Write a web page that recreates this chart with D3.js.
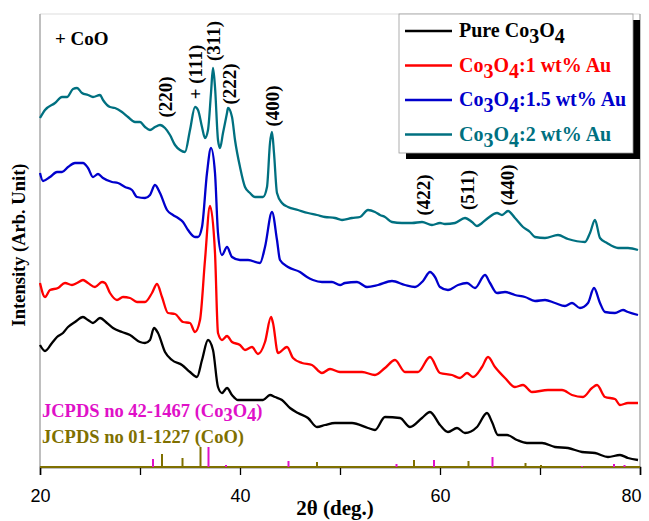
<!DOCTYPE html>
<html>
<head>
<meta charset="utf-8">
<script src="https://cdn.jsdelivr.net/npm/d3@7"></script>
<style>
  body { margin: 0; background: #fff; }
  svg text { font-family: "Liberation Serif", "Times New Roman", serif; font-weight: bold; }
</style>
</head>
<body>
<div id="chart"></div>
<script>
// XRD patterns as [2theta, intensity (arb.)]
var pureCo3O4 = [[20.0,122],[20.5,116],[21.2,124],[21.7,130],[22.3,134],[22.8,140],[23.5,145],[24.3,150],[24.8,147],[25.3,144],[26.0,149],[26.7,144],[27.3,139],[28.2,135],[29.0,132],[30.0,125],[30.5,124],[31.0,127],[31.4,139],[31.8,134],[32.5,115],[33.2,107],[34.2,102],[35.0,95],[35.7,90],[36.2,107],[36.8,127],[37.3,117],[37.8,80],[38.2,74],[38.7,79],[39.2,72],[39.8,67],[40.5,67],[41.5,67],[42.3,67],[43.0,72],[43.5,70],[44.2,67],[45.0,59],[45.8,54],[46.8,49],[47.7,40],[48.5,42],[49.5,44],[51.2,44],[52.8,39],[53.5,37],[54.5,50],[56.0,49],[57.0,40],[58.2,49],[59.0,55],[60.0,42],[60.8,35],[61.7,39],[62.5,34],[63.7,40],[64.7,54],[65.2,45],[65.8,32],[66.7,32],[67.7,27],[68.7,24],[70.2,24],[71.5,20],[72.8,19],[74.2,15],[75.5,14],[76.8,10],[78.0,12],[78.8,9],[79.8,7]];

var au1 = [[20.0,184],[20.5,170],[21.0,177],[21.8,179],[22.5,184],[23.2,182],[23.7,184],[24.3,187],[24.8,184],[25.5,180],[26.2,185],[26.5,184],[27.0,174],[27.7,167],[28.3,170],[29.0,169],[29.7,165],[30.5,165],[31.2,174],[31.7,183],[32.2,170],[32.8,154],[33.5,153],[34.3,145],[35.0,144],[35.5,135],[36.0,147],[36.5,207],[37.0,261],[37.5,214],[37.8,134],[38.2,127],[38.7,131],[39.2,125],[40.0,122],[40.5,117],[41.2,120],[41.8,113],[42.5,125],[43.1,150],[43.3,144],[43.8,114],[44.7,120],[45.3,109],[46.2,104],[47.2,102],[48.2,94],[49.0,98],[50.0,95],[50.8,95],[52.2,95],[53.5,92],[54.5,99],[55.5,107],[56.5,95],[57.8,95],[59.0,110],[60.0,94],[61.2,92],[62.0,89],[62.7,94],[63.3,90],[64.2,100],[64.8,110],[65.5,100],[66.5,89],[67.5,80],[68.3,82],[69.2,75],[70.8,77],[72.2,77],[73.2,72],[74.3,70],[75.2,79],[75.7,82],[76.5,70],[77.5,68],[78.0,62],[78.8,64],[79.8,64]];

var au15 = [[20.0,294],[20.3,286],[21.0,290],[21.7,295],[22.2,295],[22.8,300],[23.5,304],[24.3,304],[24.8,299],[25.3,290],[25.8,293],[26.3,289],[27.2,285],[27.8,284],[28.5,280],[29.2,277],[29.7,270],[30.5,269],[31.0,272],[31.5,282],[32.0,274],[32.7,257],[33.3,252],[33.8,249],[34.3,245],[34.8,237],[35.5,230],[35.8,230],[36.2,240],[36.7,294],[37.1,319],[37.5,294],[37.8,234],[38.2,212],[38.7,220],[39.2,210],[40.0,207],[40.8,207],[42.0,204],[42.5,220],[43.2,255],[43.7,227],[44.0,207],[44.8,200],[46.0,195],[46.7,190],[47.3,187],[48.2,185],[49.2,185],[50.0,182],[50.5,184],[51.7,185],[52.7,180],[53.8,182],[55.2,186],[56.5,182],[57.5,180],[58.3,186],[59.0,195],[59.5,190],[60.0,180],[60.8,177],[61.8,182],[62.7,184],[63.5,179],[64.5,192],[65.0,184],[65.7,174],[66.5,175],[67.5,172],[68.5,170],[69.5,166],[70.5,167],[71.5,164],[72.5,161],[73.2,164],[74.0,159],[74.8,164],[75.4,179],[76.0,164],[76.5,155],[77.5,154],[78.3,157],[78.8,155],[79.8,152]];

var au2 = [[20.0,349],[20.5,357],[21.5,364],[22.2,370],[22.7,370],[23.3,378],[23.7,379],[24.2,374],[24.8,372],[25.3,370],[26.0,372],[26.3,367],[27.0,360],[27.5,359],[28.2,355],[28.8,350],[29.5,345],[30.0,345],[30.5,340],[31.0,337],[31.5,340],[32.0,342],[32.5,339],[33.0,332],[33.5,322],[34.0,317],[34.5,315],[35.0,337],[35.5,360],[35.8,357],[36.2,340],[36.5,329],[36.8,337],[37.1,374],[37.3,399],[37.5,380],[37.8,327],[38.0,319],[38.3,334],[38.7,354],[38.8,359],[39.2,350],[39.5,327],[40.0,300],[40.5,280],[41.0,274],[41.5,270],[42.3,270],[42.7,280],[43.0,324],[43.2,335],[43.4,314],[43.7,274],[44.2,264],[44.8,260],[45.8,257],[46.8,254],[47.7,252],[48.5,250],[49.5,249],[50.2,247],[51.2,249],[52.0,250],[52.8,257],[53.5,255],[54.0,252],[54.5,250],[55.2,245],[56.2,244],[57.2,244],[58.2,245],[59.2,242],[60.0,244],[60.5,243],[61.5,244],[62.5,249],[63.2,245],[63.7,241],[64.2,244],[64.8,249],[65.7,254],[66.2,252],[66.8,256],[67.5,249],[68.3,240],[69.0,235],[69.5,230],[70.5,229],[71.8,232],[72.8,228],[74.5,225],[75.0,234],[75.5,247],[76.0,229],[76.7,224],[77.8,219],[78.8,219],[79.8,217]];

// reference patterns (stick heights)
var jcpdsCo3O4 = [[31.3,8],[36.85,20],[38.6,2],[44.85,6],[55.65,3],[59.4,7],[65.25,10],[74.2,1],[77.4,3],[78.45,2]];
var jcpdsCoO = [[32.2,13],[34.25,9],[36.05,20],[47.7,5],[57.4,7],[62.85,6],[68.55,4],[70.1,2]];

var seriesNames = ["Pure Co3O4", "Co3O4:1 wt% Au", "Co3O4:1.5 wt% Au", "Co3O4:2 wt% Au"];
var seriesColors = ["#000000", "#ff0000", "#0000cc", "#007080"];

// peak labels [text, 2theta, label centre height in px]
var peakLabels = [["(220)", 32.5, 97], ["+ (111)", 35.5, 72], ["(311)", 37.3, 41], ["(222)", 38.9, 84],
                  ["(400)", 43.2, 106], ["(422)", 58.3, 195], ["(511)", 62.7, 190], ["(440)", 66.7, 185]];
var xTicks = [20, 30, 40, 50, 60, 70, 80];
var xTickLabels = [20, 40, 60, 80];

var svgWidth = 649;
var svgHeight = 521;
var margin = { top: 14, right: 9, bottom: 54, left: 40 };
var plotBottom = svgHeight - margin.bottom;

var svg = d3.select("#chart")
    .append("svg")
    .attr("width", svgWidth)
    .attr("height", svgHeight);

var x = d3.scaleLinear().domain([20, 80]).range([margin.left, svgWidth - margin.right]);
var y = d3.scaleLinear().domain([0, 453]).range([plotBottom, margin.top]);

// frame
svg.append("line").attr("x1", x(20)).attr("x2", x(80)).attr("y1", margin.top).attr("y2", margin.top)
    .attr("stroke", "#dddddd").attr("stroke-width", 1);
svg.append("line").attr("x1", x(20)).attr("x2", x(20)).attr("y1", margin.top).attr("y2", plotBottom)
    .attr("stroke", "#aaaaaa").attr("stroke-width", 1.5);
svg.append("line").attr("x1", x(80)).attr("x2", x(80)).attr("y1", margin.top).attr("y2", plotBottom)
    .attr("stroke", "#999999").attr("stroke-width", 1.2);

// x axis
var xAxis = d3.axisBottom(x).tickValues(xTicks).tickSize(8)
    .tickFormat(function (d) { return xTickLabels.indexOf(d) >= 0 ? d : ""; });
var gx = svg.append("g").attr("transform", "translate(0," + plotBottom + ")").call(xAxis);
gx.select(".domain").attr("stroke", "#000").attr("stroke-width", 1.5);
gx.selectAll(".tick line").attr("stroke", "#000").attr("stroke-width", 1.3);
gx.selectAll(".tick text")
    .attr("y", 22)
    .style("font-family", "'Liberation Sans', Arial, sans-serif")
    .style("font-weight", "normal")
    .style("font-size", "18px")
    .attr("fill", "#000");
// last label sits inside the right edge
gx.selectAll(".tick text").filter(function (d) { return d === 80; })
    .attr("text-anchor", "end").attr("dx", 1);

// reference sticks
svg.append("line").attr("x1", x(20)).attr("x2", x(80)).attr("y1", y(0)).attr("y2", y(0))
    .attr("stroke", "#7f7000").attr("stroke-width", 2);
svg.selectAll(".stickCoO").data(jcpdsCoO).enter().append("line")
    .attr("x1", function (d) { return x(d[0]); }).attr("x2", function (d) { return x(d[0]); })
    .attr("y1", y(0)).attr("y2", function (d) { return y(d[1]); })
    .attr("stroke", "#7f7000").attr("stroke-width", 2);
svg.selectAll(".stickCo").data(jcpdsCo3O4).enter().append("line")
    .attr("x1", function (d) { return x(d[0]); }).attr("x2", function (d) { return x(d[0]); })
    .attr("y1", y(0)).attr("y2", function (d) { return y(d[1]); })
    .attr("stroke", "#e010c8").attr("stroke-width", 2);

// patterns
var line = d3.line()
    .x(function (d) { return x(d[0]); })
    .y(function (d) { return y(d[1]); })
    .curve(d3.curveMonotoneX);

[pureCo3O4, au1, au15, au2].forEach(function (data, i) {
    svg.append("path")
        .datum(data)
        .attr("d", line)
        .attr("fill", "none")
        .attr("stroke", seriesColors[i])
        .attr("stroke-width", 2.3)
        .attr("stroke-linejoin", "round");
});

// peak labels
svg.selectAll(".peak").data(peakLabels).enter().append("text")
    .attr("transform", function (d) { return "translate(" + x(d[1]) + "," + d[2] + ") rotate(-90)"; })
    .attr("text-anchor", "middle")
    .attr("dominant-baseline", "central")
    .style("font-size", "19px")
    .text(function (d) { return d[0]; });

svg.append("text").attr("x", 55).attr("y", 45).style("font-size", "19px").text("+ CoO");

// JCPDS labels
var t1 = svg.append("text").attr("x", 42).attr("y", 417).attr("fill", "#e010c8").style("font-size", "18.5px");
t1.append("tspan").text("JCPDS no 42-1467 (Co");
t1.append("tspan").attr("dy", 4).text("3");
t1.append("tspan").attr("dy", -4).text("O");
t1.append("tspan").attr("dy", 4).text("4");
t1.append("tspan").attr("dy", -4).text(")");
svg.append("text").attr("x", 42).attr("y", 443).attr("fill", "#7f7000").style("font-size", "18.5px")
    .text("JCPDS no 01-1227 (CoO)");

// axis titles
svg.append("text")
    .attr("transform", "translate(19," + 245 + ") rotate(-90)")
    .attr("text-anchor", "middle")
    .attr("dominant-baseline", "central")
    .style("font-size", "18.5px")
    .text("Intensity (Arb. Unit)");
svg.append("text")
    .attr("x", 335).attr("y", 515)
    .attr("text-anchor", "middle")
    .style("font-size", "21px")
    .text("2\u03b8  (deg.)");

// legend
svg.append("rect").attr("x", 406).attr("y", 20).attr("width", 234).attr("height", 139).attr("fill", "#000");
svg.append("rect").attr("x", 399).attr("y", 14).attr("width", 234).attr("height", 139)
    .attr("fill", "#fff").attr("stroke", "#999").attr("stroke-width", 0.8);

seriesNames.forEach(function (name, i) {
    var ly = 31 + i * 34.5;
    svg.append("line").attr("x1", 405).attr("x2", 452).attr("y1", ly).attr("y2", ly)
        .attr("stroke", seriesColors[i]).attr("stroke-width", 2.3);
    var t = svg.append("text").attr("x", 459).attr("y", ly + 6).attr("fill", seriesColors[i])
        .style("font-size", "20px");
    var parts = name.split("Co3O4");
    t.append("tspan").text(parts[0] + "Co");
    t.append("tspan").attr("dy", 6).text("3");
    t.append("tspan").attr("dy", -6).text("O");
    t.append("tspan").attr("dy", 6).text("4");
    t.append("tspan").attr("dy", -6).text(parts[1]);
});
</script>
</body>
</html>
